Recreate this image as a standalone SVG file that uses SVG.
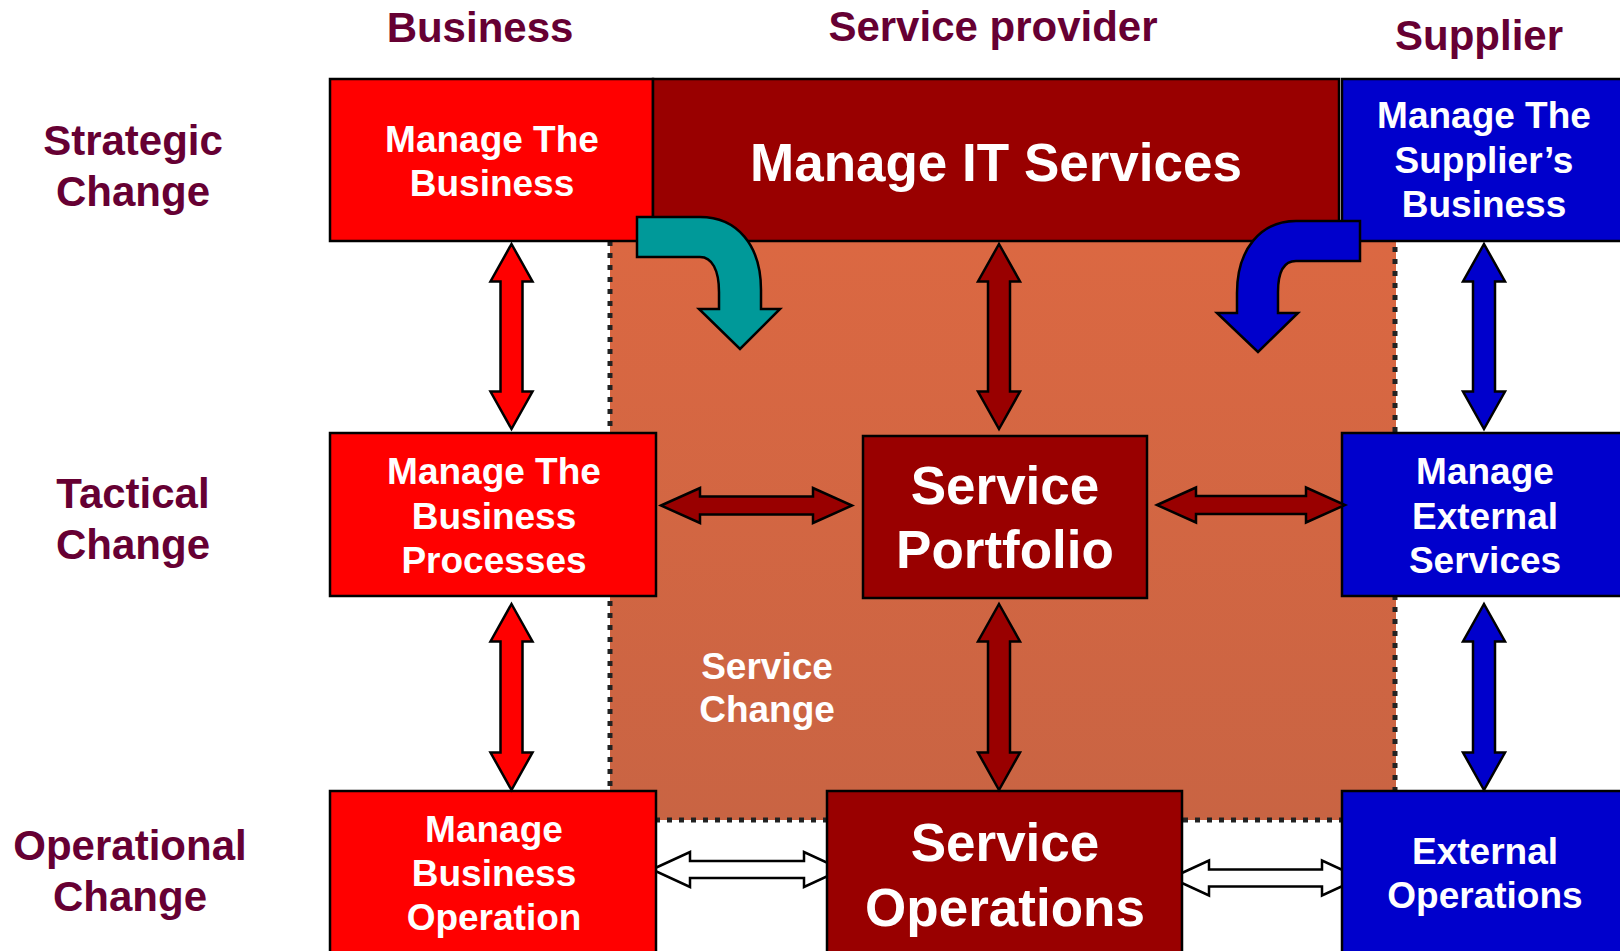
<svg xmlns="http://www.w3.org/2000/svg" width="1620" height="951" viewBox="0 0 1620 951">
<defs>
<linearGradient id="bg" x1="0" y1="0" x2="0" y2="1">
<stop offset="0" stop-color="#DB6842"/>
<stop offset="1" stop-color="#C96443"/>
</linearGradient>
</defs>
<style>
text{font-family:"Liberation Sans",Arial,sans-serif;font-weight:bold;text-anchor:middle}
.hd{font-size:42px;fill:#660033}
.sm{font-size:37px;fill:#fff}
.lg{font-size:53px;fill:#fff}
.box{stroke:#000;stroke-width:2.5}
.red{fill:#FF0000}
.dred{fill:#990000}
.blue{fill:#0000CC}
.arr{stroke:#000;stroke-width:2.5;stroke-linejoin:miter}
.wht{fill:#fff}
.teal{fill:#009999}
</style>
<rect x="0" y="0" width="1620" height="951" fill="#fff"/>
<g id="service-change">
<rect x="610" y="241" width="786" height="579" fill="url(#bg)"/>
<polyline points="610,241 610,820 1395,820 1395,241" fill="none" stroke="#222" stroke-width="5" stroke-dasharray="5 7"/>
<text class="sm" x="767" y="679">Service</text>
<text class="sm" x="767" y="722">Change</text>
</g>
<g id="headers">
<text class="hd" x="480" y="42">Business</text>
<text class="hd" x="993" y="41">Service provider</text>
<text class="hd" x="1479" y="50">Supplier</text>
<text class="hd" x="133" y="155">Strategic</text>
<text class="hd" x="133" y="206">Change</text>
<text class="hd" x="133" y="508">Tactical</text>
<text class="hd" x="133" y="559">Change</text>
<text class="hd" x="130" y="860">Operational</text>
<text class="hd" x="130" y="911">Change</text>
</g>
<g id="connectors-white">
<path class="arr wht" d="M652,869.5 L690,852 L690,861 L804,861 L804,852 L842,869.5 L804,887 L804,878 L690,878 L690,887 Z"/>
<path class="arr wht" d="M1171,878 L1209,860.5 L1209,869.5 L1322,869.5 L1322,860.5 L1360,878 L1322,895.5 L1322,886.5 L1209,886.5 L1209,895.5 Z"/>
</g>
<g id="manage-business">
<rect class="box red" x="330" y="79" width="323" height="162"/>
<text class="sm" x="492" y="152">Manage The</text>
<text class="sm" x="492" y="196">Business</text>
</g>
<g id="manage-it-services">
<rect class="box dred" x="653" y="79" width="686" height="162"/>
<text class="lg" x="996" y="181">Manage IT Services</text>
</g>
<g id="manage-suppliers-business">
<rect class="box blue" x="1342" y="79" width="290" height="162"/>
<text class="sm" x="1484" y="128">Manage The</text>
<text class="sm" x="1484" y="173">Supplier’s</text>
<text class="sm" x="1484" y="217">Business</text>
</g>
<g id="manage-business-processes">
<rect class="box red" x="330" y="433" width="326" height="163"/>
<text class="sm" x="494" y="484">Manage The</text>
<text class="sm" x="494" y="529">Business</text>
<text class="sm" x="494" y="573">Processes</text>
</g>
<g id="service-portfolio">
<rect class="box dred" x="863" y="436" width="284" height="162"/>
<text class="lg" x="1005" y="504">Service</text>
<text class="lg" x="1005" y="568">Portfolio</text>
</g>
<g id="manage-external-services">
<rect class="box blue" x="1342" y="433" width="290" height="163"/>
<text class="sm" x="1485" y="484">Manage</text>
<text class="sm" x="1485" y="529">External</text>
<text class="sm" x="1485" y="573">Services</text>
</g>
<g id="manage-business-operation">
<rect class="box red" x="330" y="791" width="326" height="175"/>
<text class="sm" x="494" y="842">Manage</text>
<text class="sm" x="494" y="886">Business</text>
<text class="sm" x="494" y="930">Operation</text>
</g>
<g id="service-operations">
<rect class="box dred" x="827" y="791" width="355" height="175"/>
<text class="lg" x="1005" y="861">Service</text>
<text class="lg" x="1005" y="926">Operations</text>
</g>
<g id="external-operations">
<rect class="box blue" x="1342" y="791" width="290" height="175"/>
<text class="sm" x="1485" y="864">External</text>
<text class="sm" x="1485" y="908">Operations</text>
</g>
<g id="connectors">
<path class="arr teal" d="M637,217 H700 C737,217 761,245 761,290 V309 H780 L740,349 L699,309 H719 V292 C719,270 712,257 700,257 H637 Z"/>
<path class="arr blue" d="M1360,221 H1296 C1260,221 1237,250 1237,293 V313 H1217 L1258,352 L1298,313 H1278 V292 C1278,272 1284,261 1296,261 H1360 Z"/>
<path class="arr red" d="M511.5,244 L532.5,281.5 L522.5,281.5 L522.5,391.5 L532.5,391.5 L511.5,429 L490.5,391.5 L500.5,391.5 L500.5,281.5 L490.5,281.5 Z"/>
<path class="arr red" d="M511.5,604 L532.5,641.5 L522.5,641.5 L522.5,752.5 L532.5,752.5 L511.5,790 L490.5,752.5 L500.5,752.5 L500.5,641.5 L490.5,641.5 Z"/>
<path class="arr dred" d="M999,244 L1020,281.5 L1010,281.5 L1010,391.5 L1020,391.5 L999,429 L978,391.5 L988,391.5 L988,281.5 L978,281.5 Z"/>
<path class="arr dred" d="M999,604 L1020,641.5 L1010,641.5 L1010,752.5 L1020,752.5 L999,790 L978,752.5 L988,752.5 L988,641.5 L978,641.5 Z"/>
<path class="arr blue" d="M1484,244 L1505,281.5 L1495,281.5 L1495,391.5 L1505,391.5 L1484,429 L1463,391.5 L1473,391.5 L1473,281.5 L1463,281.5 Z"/>
<path class="arr blue" d="M1484,604 L1505,641.5 L1495,641.5 L1495,752.5 L1505,752.5 L1484,790 L1463,752.5 L1473,752.5 L1473,641.5 L1463,641.5 Z"/>
<path class="arr dred" d="M661,505.5 L700,488 L700,496.5 L813,496.5 L813,488 L852,505.5 L813,523 L813,514.5 L700,514.5 L700,523 Z"/>
<path class="arr dred" d="M1157,505 L1196,487.5 L1196,496 L1306,496 L1306,487.5 L1345,505 L1306,522.5 L1306,514 L1196,514 L1196,522.5 Z"/>
</g>
</svg>
